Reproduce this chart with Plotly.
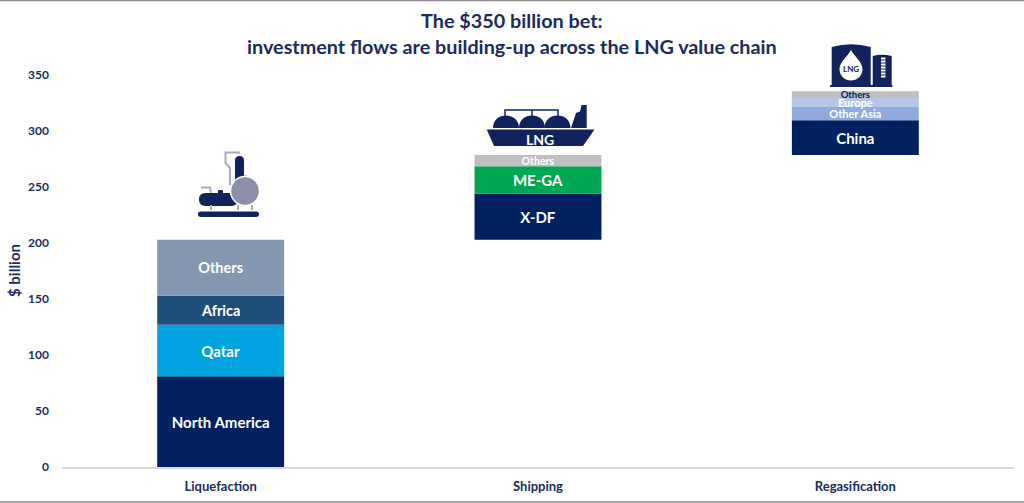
import plotly.graph_objects as go

categories = ["Liquefaction", "Shipping", "Regasification"]
liq_names = ["North America", "Qatar", "Africa", "Others"]
liq_values = [81, 46, 26, 50]
ship_names = ["X-DF", "ME-GA", "Others"]
ship_values = [41, 24.5, 10]
regas_names = ["China", "Other Asia", "Europe", "Others"]
regas_values = [31, 12, 8, 6]
liq_colors = ["#002060", "#00A3E0", "#1F4E79", "#8497B0"]
ship_colors = ["#002060", "#00A651", "#BFBFBF"]
regas_colors = ["#002060", "#8FAADC", "#B4C7E7", "#BFBFBF"]
liq_sizes = [15, 15, 14.5, 14.5]
ship_sizes = [15, 15, 10.5]
regas_sizes = [15, 11, 11, 9.5]
regas_text = ["#FFFFFF", "#FFFFFF", "#FFFFFF", "#002060"]

NAVY = "#1A2B5F"
FONT = "Lato"
W, H = 1024, 503
L, R, T, B = 62, 1014, 75, 467

fig = go.Figure()
base = 0
groups = [
    (categories[0], liq_names, liq_values, liq_colors, liq_sizes, ["#FFFFFF"] * 4),
    (categories[1], ship_names, ship_values, ship_colors, ship_sizes, ["#FFFFFF"] * 3),
    (categories[2], regas_names, regas_values, regas_colors, regas_sizes, regas_text),
]
for cat, names, vals, cols, sizes, tcols in groups:
    for n, v, c, s, tc in zip(names, vals, cols, sizes, tcols):
        fig.add_trace(go.Bar(
            x=[cat], y=[v], base=[base], width=0.4, name=n,
            marker=dict(color=c, line=dict(width=0)),
            text=[n], textposition="inside", insidetextanchor="middle",
            textangle=0, constraintext="none", cliponaxis=False,
            textfont=dict(family=FONT, size=s, color=tc, weight="bold"),
            showlegend=False,
        ))
        base += v


def px(x, y):
    return (x - L) / (R - L), (B - y) / (B - T)


def path(cmds):
    out = []
    for c in cmds:
        if c == "Z":
            out.append("Z")
        else:
            letter, *pts = c
            coords = []
            for i in range(0, len(pts), 2):
                a, b = px(pts[i], pts[i + 1])
                coords.append(f"{a:.5f},{b:.5f}")
            out.append(letter + " ".join(coords))
    return " ".join(out)


def filled(cmds, color, line=None, lw=0):
    fig.add_shape(type="path", xref="paper", yref="paper", path=path(cmds),
                  fillcolor=color, line=dict(color=line or color, width=lw), layer="below")


def stroke(cmds, color, lw):
    fig.add_shape(type="path", xref="paper", yref="paper", path=path(cmds),
                  line=dict(color=color, width=lw), layer="below")


def rrect(x0, y0, x1, y1, r, color):
    filled([("M", x0 + r, y0), ("L", x1 - r, y0), ("Q", x1, y0, x1, y0 + r), ("L", x1, y1 - r),
            ("Q", x1, y1, x1 - r, y1), ("L", x0 + r, y1), ("Q", x0, y1, x0, y1 - r),
            ("L", x0, y0 + r), ("Q", x0, y0, x0 + r, y0), "Z"], color)


def circle(cx, cy, r, color, line=None, lw=0):
    k = 0.5523 * r
    filled([("M", cx - r, cy), ("C", cx - r, cy - k, cx - k, cy - r, cx, cy - r),
            ("C", cx + k, cy - r, cx + r, cy - k, cx + r, cy),
            ("C", cx + r, cy + k, cx + k, cy + r, cx, cy + r),
            ("C", cx - k, cy + r, cx - r, cy + k, cx - r, cy), "Z"], color, line, lw)


ICON = "#12225C"
PIPE = "#A9ACB6"
# liquefaction plant icon
stroke([("M", 230, 185), ("L", 230, 168), ("L", 225.5, 163), ("L", 225.5, 152.5), ("L", 240, 152.5)], PIPE, 2)
rrect(235, 156, 244, 188, 4.5, ICON)
stroke([("M", 201, 187.5), ("L", 210, 187.5), ("L", 211, 193)], PIPE, 2)
rrect(218, 190, 223, 195, 1, ICON)
rrect(199, 193, 238, 206, 6.5, ICON)
for lx in (211, 238, 252):
    rrect(lx - 1, 205, lx + 1, 210, 0, PIPE)
rrect(244, 175, 247, 179, 1, PIPE)
circle(245, 191, 14.5, "#8A8EA6", "#FFFFFF", 1.5)
rrect(198, 211.5, 259, 217, 2.5, ICON)

# ship icon
for cx in (506, 532, 557.5):
    filled([("M", cx - 13, 128), ("C", cx - 13, 120, cx - 7, 115.5, cx, 115.5),
            ("C", cx + 7, 115.5, cx + 13, 120, cx + 13, 128), "Z"], ICON)
stroke([("M", 505, 117), ("L", 505, 110), ("L", 558, 110), ("L", 558, 117)], ICON, 1.5)
stroke([("M", 532, 117), ("L", 532, 110)], ICON, 1.5)
filled([("M", 571, 128), ("L", 576, 113), ("L", 580, 111.5), ("L", 581.5, 105),
        ("L", 586.7, 105), ("L", 586.7, 128), "Z"], ICON)
filled([("M", 486.7, 129.5), ("L", 594.5, 129.5), ("L", 583, 146), ("L", 494, 146), "Z"], ICON)

# regasification tank icon
filled([("M", 831.7, 85), ("L", 831.7, 47), ("Q", 851, 41.5, 870.7, 47), ("L", 870.7, 85), "Z"], ICON)
filled([("M", 872.7, 85), ("L", 872.7, 56), ("Q", 882, 53.5, 891.7, 56), ("L", 891.7, 85), "Z"], ICON)
filled([("M", 830, 85), ("L", 892.5, 85), ("L", 892.5, 87), ("L", 830, 87), "Z"], ICON)
for i in range(7):
    rrect(881, 57.5 + i * 3, 885.5, 59.5 + i * 3, 0, "#FFFFFF")
filled([("M", 851, 50), ("C", 854, 56, 862.5, 62, 862.5, 69), ("C", 862.5, 76, 857, 80.5, 851, 80.5),
        ("C", 845, 80.5, 839.5, 76, 839.5, 69), ("C", 839.5, 62, 848, 56, 851, 50), "Z"], "#FFFFFF")


def note(x, y, text, size, color, angle=0):
    a, b = px(x, y)
    fig.add_annotation(xref="paper", yref="paper", x=a, y=b, text=text, showarrow=False,
                       xanchor="center", yanchor="middle", textangle=angle,
                       font=dict(family=FONT, size=size, color=color, weight="bold"))


note(540, 139, "LNG", 14, "#FFFFFF")
note(851, 68.5, "LNG", 8, ICON)
note(512, 33, "The $350 billion bet:<br>investment flows are building-up across the LNG value chain", 19.8, NAVY)
note(14, 271, "$ billion", 15, NAVY, -90)

# frame edges of the picture
for y in (0.5, 502):
    a, b = px(0, y)
    c, d = px(W, y)
    fig.add_shape(type="line", xref="paper", yref="paper", x0=a, y0=b, x1=c, y1=d,
                  line=dict(color="#8C8C8C", width=1.5))

fig.update_layout(
    width=W, height=H, autosize=False, barmode="overlay",
    margin=dict(l=L, r=W - R, t=T, b=H - B, autoexpand=False),
    paper_bgcolor="#FFFFFF", plot_bgcolor="#FFFFFF",
    font=dict(family=FONT, color=NAVY),
    xaxis=dict(categoryorder="array", categoryarray=categories, showgrid=False, showline=True,
               linecolor="#D9D9D9", linewidth=1.5, ticks="", zeroline=False, automargin=False,
               tickfont=dict(family=FONT, size=13, color=NAVY, weight="bold"), ticklabelstandoff=7),
    yaxis=dict(range=[0, 350], dtick=50, showgrid=False, showline=False, zeroline=False, ticks="",
               automargin=False,
               tickfont=dict(family=FONT, size=12, color=NAVY, weight="bold"), ticklabelstandoff=12),
)
fig.write_html("out.html", config={"displayModeBar": False},
               post_script="document.body.style.margin='0';document.body.style.overflow='hidden';")
